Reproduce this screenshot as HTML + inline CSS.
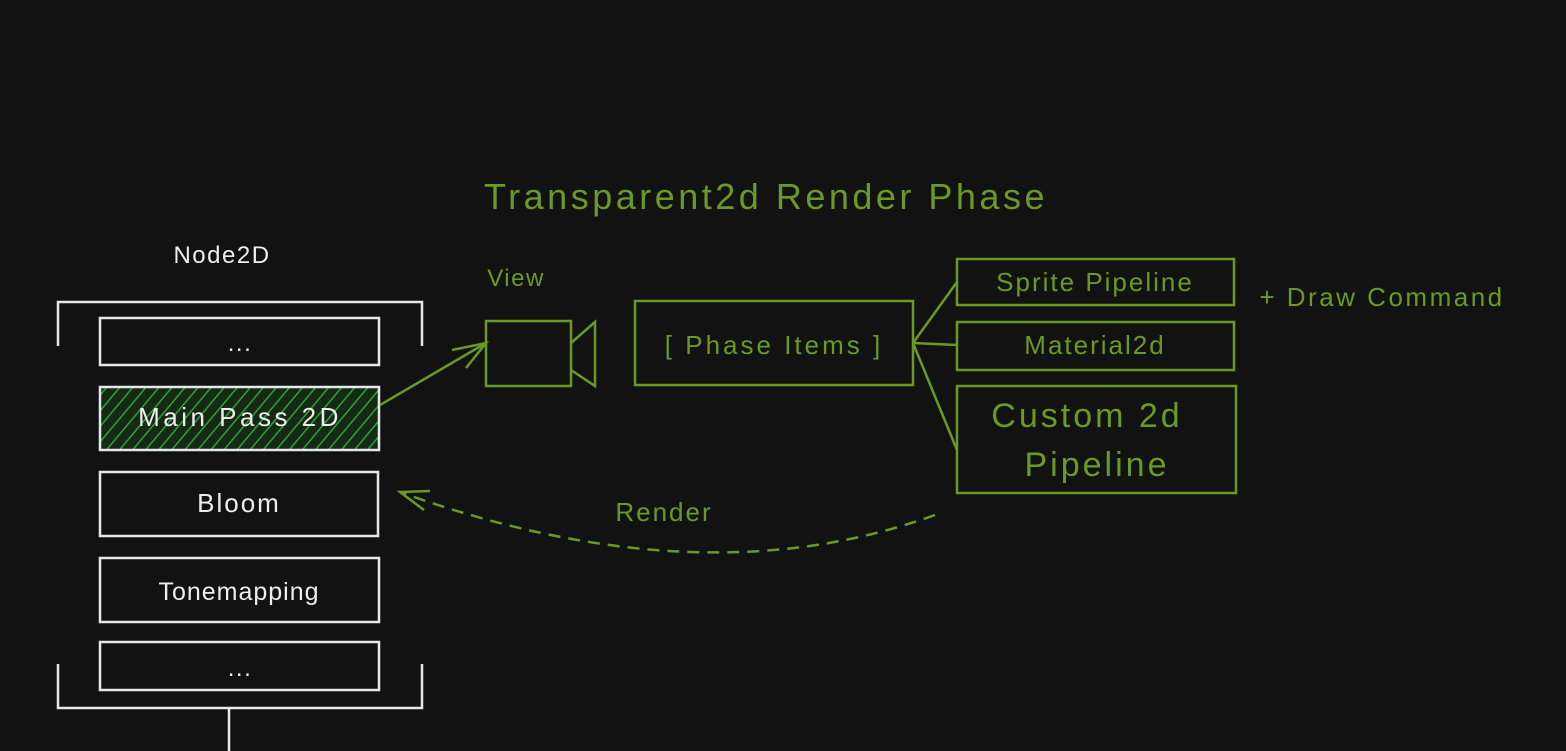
<!DOCTYPE html>
<html><head><meta charset="utf-8"><style>
html,body{margin:0;padding:0;background:#121212;}
svg{display:block}
text{font-family:"Liberation Sans",sans-serif;letter-spacing:1.5px;}
</style></head><body>
<svg width="1566" height="751" viewBox="0 0 1566 751" xmlns="http://www.w3.org/2000/svg">
<defs>
<pattern id="h" width="10" height="10" patternUnits="userSpaceOnUse" patternTransform="rotate(40)">
<rect width="10" height="10" fill="#152a15"/><line x1="0" y1="0" x2="0" y2="10" stroke="#2fa03a" stroke-width="3"/>
</pattern>
</defs>
<rect width="1566" height="751" fill="#121212"/>
<g fill="none" stroke="#e8e8e8" stroke-width="2.5">
<path d="M58 346 V302 H422 V346"/>
<path d="M58 664 V708 H422 V664"/>
<line x1="229" y1="708" x2="229" y2="751"/>
<rect x="100" y="318" width="279" height="47"/>
<rect x="100" y="387" width="279" height="63" fill="url(#h)"/>
<rect x="100" y="472" width="278" height="64"/>
<rect x="100" y="558" width="279" height="64"/>
<rect x="100" y="642" width="279" height="48"/>
</g>
<g fill="#eeeeee" font-size="24" text-anchor="middle">
<text x="222" y="263" font-size="24">Node2D</text>
<text x="240" y="351">...</text>
<text x="240" y="426" font-size="26" style="letter-spacing:3.5px">Main Pass 2D</text>
<text x="239" y="512" font-size="26" style="letter-spacing:2px">Bloom</text>
<text x="239" y="600" font-size="25" style="letter-spacing:1px">Tonemapping</text>
<text x="240" y="676">...</text>
</g>
<g fill="none" stroke="#6a9a23" stroke-width="2.5">
<line x1="380" y1="405" x2="486" y2="343"/>
<path d="M452 350 L486 343 L466 368"/>
<rect x="486" y="321" width="85" height="65"/>
<path d="M571 343 L595 322 V386 L571 370"/>
<rect x="635" y="301" width="278" height="84"/>
<rect x="957" y="259" width="277" height="46"/>
<rect x="957" y="322" width="277" height="48"/>
<rect x="957" y="386" width="279" height="107"/>
<line x1="913" y1="343" x2="957" y2="282"/>
<line x1="913" y1="343" x2="957" y2="345"/>
<line x1="913" y1="343" x2="957" y2="450"/>
<path d="M935 515 Q700 600 400 492" stroke-dasharray="12 8"/>
<path d="M430 491 L400 492 L424 510"/>
</g>
<g fill="#6a9a23" text-anchor="middle">
<text x="766" y="209" font-size="36" style="letter-spacing:3.5px">Transparent2d Render Phase</text>
<text x="516" y="286" font-size="24">View</text>
<text x="774" y="354" font-size="26" style="letter-spacing:3px">[ Phase Items ]</text>
<text x="1095" y="291" font-size="26" style="letter-spacing:2px">Sprite Pipeline</text>
<text x="1095" y="354" font-size="26" style="letter-spacing:2px">Material2d</text>
<text x="1087" y="427" font-size="34" style="letter-spacing:3px">Custom 2d</text>
<text x="1097" y="476" font-size="34" style="letter-spacing:3px">Pipeline</text>
<text x="1382" y="306" font-size="26" style="letter-spacing:2.5px">+ Draw Command</text>
<text x="664" y="521" font-size="26" style="letter-spacing:2px">Render</text>
</g>
</svg>
</body></html>
